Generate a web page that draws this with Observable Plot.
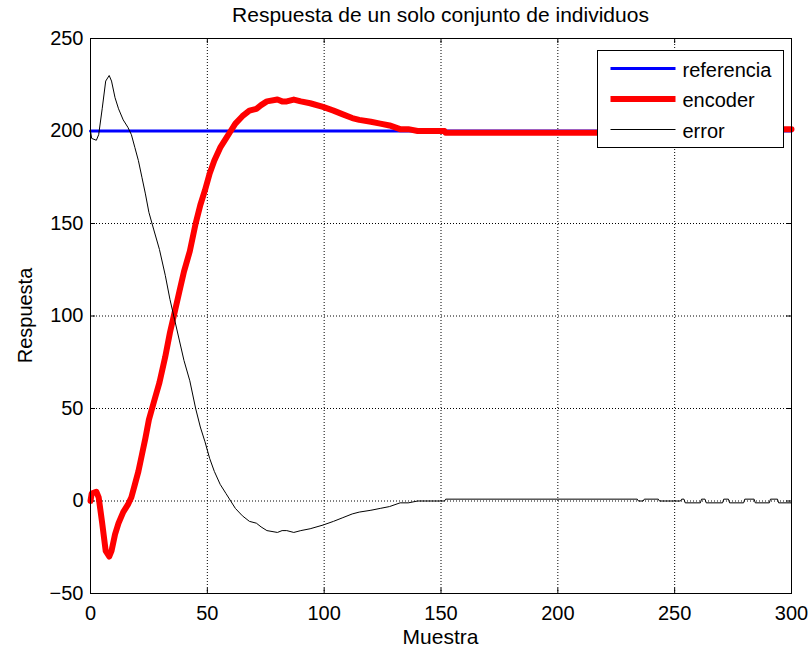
<!DOCTYPE html>
<html>
<head>
<meta charset="utf-8">
<script src="https://cdn.jsdelivr.net/npm/d3@7"></script>
<script src="https://cdn.jsdelivr.net/npm/@observablehq/plot@0.6"></script>
<style>
  body { margin: 0; background: #fff; }
  #fig { position: relative; width: 812px; height: 654px; font-family: "Liberation Sans", Arial, sans-serif; }
  #fig svg { display: block; }
  #overlay { position: absolute; left: 0; top: 0; pointer-events: none; }
</style>
</head>
<body>
<div id="fig"></div>
<script>
// Sample index (Muestra) and the measured signals
const muestra = [0, 0.5, 2.5, 3.5, 5, 6.5, 8, 9, 10.5, 12, 14, 16, 17.5, 19, 20.5, 22, 23.5, 25, 27, 29.5,
  32, 34, 36, 38, 40, 42.5, 45, 47, 49, 51, 53, 55.5, 58, 60, 62, 65, 68, 71, 73, 75.5,
  80, 82, 84, 87, 90, 94, 99.5, 104, 108, 112, 115, 120, 124, 128, 132.5, 136, 140, 151.5, 152, 234,
  234.5, 236.5, 237, 243, 243.5, 252.5, 253, 254, 254.5, 261, 261.5, 263, 263.5, 270.5, 271, 273, 273.5, 279.5, 280, 284,
  284.5, 290.5, 291, 294, 294.5, 300];

const encoder = [0, 4, 5, 2, -12, -27, -30, -27, -18, -12, -6, -2, 2, 9, 16, 25, 34, 44, 53, 64,
  78, 91, 102, 113, 124, 135, 150, 160, 168, 177, 184, 191, 196, 200, 204, 208, 211, 212, 214, 216,
  217, 216, 216, 217, 216, 215, 213, 211, 209, 207, 206, 205, 204, 203, 201, 201, 200, 200, 199, 199,
  200, 200, 199, 199, 200, 200, 199, 199, 201, 201, 199, 199, 201, 201, 199, 199, 201, 201, 199, 199,
  201, 201, 199, 199, 201, 201];

const error = [200, 196, 195, 198, 212, 227, 230, 227, 218, 212, 206, 202, 198, 191, 184, 175, 166, 156, 147, 136,
  122, 109, 98, 87, 76, 65, 50, 40, 32, 23, 16, 9, 4, 0, -4, -8, -11, -12, -14, -16,
  -17, -16, -16, -17, -16, -15, -13, -11, -9, -7, -6, -5, -4, -3, -1, -1, 0, 0, 1, 1,
  0, 0, 1, 1, 0, 0, 1, 1, -1, -1, 1, 1, -1, -1, 1, 1, -1, -1, 1, 1,
  -1, -1, 1, 1, -1, -1];

const referenciaX = [0, 300];
const referencia = [200, 200];

const xTicks = [0, 50, 100, 150, 200, 250, 300];
const yTicks = [-50, 0, 50, 100, 150, 200, 250];

const titleText = "Respuesta de un solo conjunto de individuos";
const xLabel = "Muestra";
const yLabel = "Respuesta";
const seriesNames = ["referencia", "encoder", "error"];
const seriesColors = ["#0000ff", "#ff0000", "#000000"];
const seriesWidths = [3, 6, 1];

const W = 812, H = 654;
const mL = 90, mR = 21, mT = 38, mB = 61;
const innerW = W - mL - mR, innerH = H - mT - mB;

const refRows = referenciaX.map((x, i) => ({x, y: referencia[i]}));
const encRows = muestra.map((x, i) => ({x, y: encoder[i]}));
const errRows = muestra.map((x, i) => ({x, y: error[i]}));

const dotted = {stroke: "black", strokeOpacity: 1, strokeWidth: 1, strokeDasharray: "1,2"};

const chart = Plot.plot({
  width: W, height: H,
  marginLeft: mL, marginRight: mR, marginTop: mT, marginBottom: mB,
  style: {fontFamily: "'Liberation Sans', Arial, sans-serif", fontSize: "20px", background: "white", color: "black"},
  x: {domain: [0, 300], label: null},
  y: {domain: [-50, 250], label: null},
  marks: [
    Plot.gridX(xTicks, dotted),
    Plot.gridY(yTicks, dotted),
    // short inward tick marks on all four sides of the box
    Plot.ruleX(xTicks, {stroke: "black", insetTop: innerH - 5}),
    Plot.ruleX(xTicks, {stroke: "black", insetBottom: innerH - 5}),
    Plot.ruleY(yTicks, {stroke: "black", insetRight: innerW - 5}),
    Plot.ruleY(yTicks, {stroke: "black", insetLeft: innerW - 5}),
    Plot.line(refRows, {x: "x", y: "y", stroke: seriesColors[0], strokeWidth: seriesWidths[0]}),
    Plot.line(encRows, {x: "x", y: "y", stroke: seriesColors[1], strokeWidth: seriesWidths[1], strokeLinejoin: "round"}),
    Plot.line(errRows, {x: "x", y: "y", stroke: seriesColors[2], strokeWidth: seriesWidths[2]}),
    Plot.frame({stroke: "black", strokeWidth: 1}),
    Plot.axisX(xTicks, {tickSize: 0, tickPadding: 12, fontSize: 20, label: null}),
    Plot.axisY(yTicks, {tickSize: 0, tickPadding: 7, fontSize: 20, label: null})
  ]
});

const fig = document.getElementById("fig");
fig.appendChild(chart);

// Title, axis labels and legend box drawn on top of the plot
const ns = "http://www.w3.org/2000/svg";
const ov = d3.select(fig).append("svg")
  .attr("id", "overlay")
  .attr("xmlns", ns)
  .attr("width", W).attr("height", H)
  .style("font-family", "'Liberation Sans', Arial, sans-serif")
  .style("font-size", "20px");

const cx = mL + innerW / 2;
ov.append("text").attr("x", cx).attr("y", 22).attr("text-anchor", "middle").style("font-size", "21px").text(titleText);
ov.append("text").attr("x", cx).attr("y", 644).attr("text-anchor", "middle").style("font-size", "21px").text(xLabel);
ov.append("text").attr("text-anchor", "middle")
  .attr("transform", `translate(32,${mT + innerH / 2}) rotate(-90)`).text(yLabel);

const lg = ov.append("g").attr("transform", "translate(597.5,50.5)");
lg.append("rect").attr("width", 186).attr("height", 97).attr("fill", "white").attr("stroke", "black");
seriesNames.forEach((name, i) => {
  const ly = 18 + i * 30.5;
  lg.append("line").attr("x1", 13).attr("x2", 78).attr("y1", ly).attr("y2", ly)
    .attr("stroke", seriesColors[i]).attr("stroke-width", seriesWidths[i]);
  lg.append("text").attr("x", 85).attr("y", ly + 8).text(name);
});
</script>
</body>
</html>
